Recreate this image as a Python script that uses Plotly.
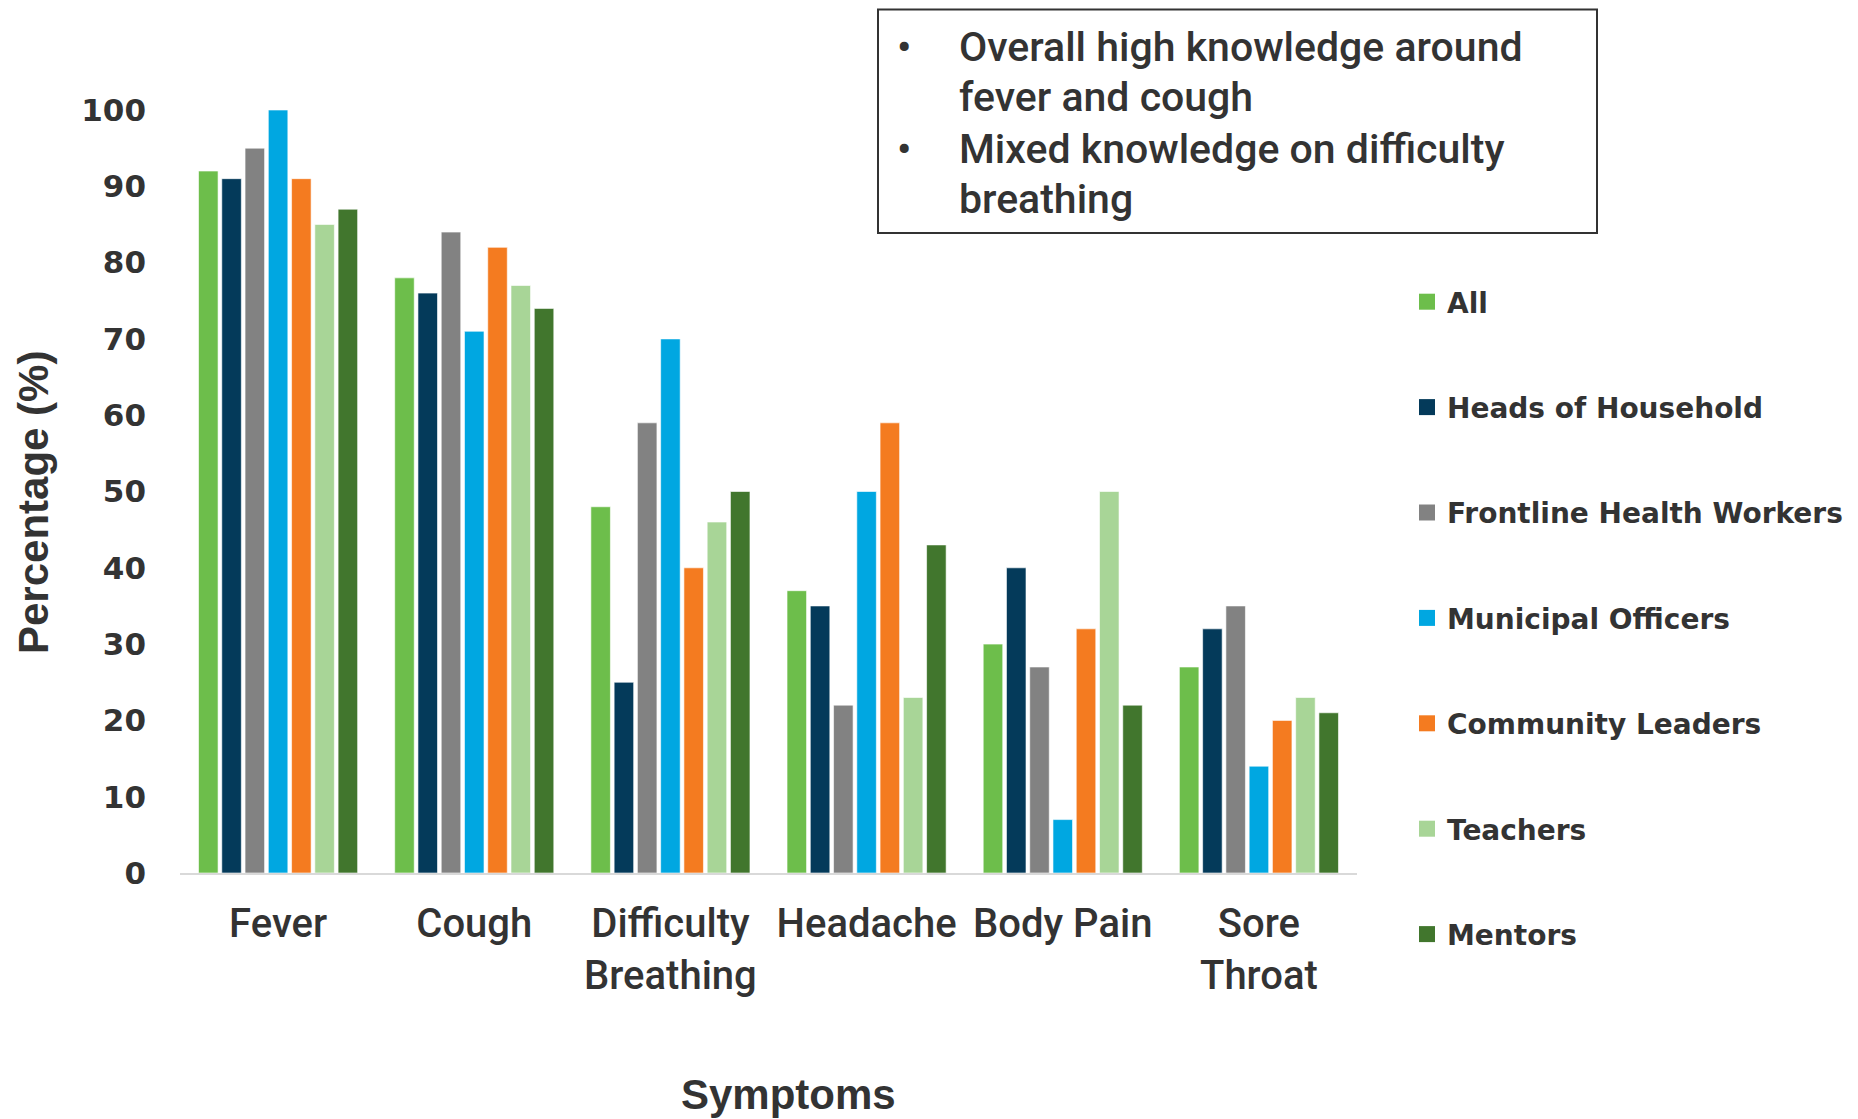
import plotly.graph_objects as go

categories = ["Fever", "Cough", "Difficulty<br>Breathing", "Headache", "Body Pain", "Sore<br>Throat"]

all_vals = [92, 78, 48, 37, 30, 27]
heads_of_household = [91, 76, 25, 35, 40, 32]
frontline_health_workers = [95, 84, 59, 22, 27, 35]
municipal_officers = [100, 71, 70, 50, 7, 14]
community_leaders = [91, 82, 40, 59, 32, 20]
teachers = [85, 77, 46, 23, 50, 23]
mentors = [87, 74, 50, 43, 22, 21]

series_names = ["All", "Heads of Household", "Frontline Health Workers", "Municipal Officers",
                "Community Leaders", "Teachers", "Mentors"]
series_values = [all_vals, heads_of_household, frontline_health_workers, municipal_officers,
                 community_leaders, teachers, mentors]
series_colors = ["#6DBE4B", "#043A5A", "#828282", "#00A7E1", "#F47B20", "#A8D597", "#41762D"]

y_ticks = [0, 10, 20, 30, 40, 50, 60, 70, 80, 90, 100]

note_lines = ["Overall high knowledge around", "fever and cough",
              "Mixed knowledge on difficulty", "breathing"]

OFF = 8  # page body margin
W, H = 1858 - OFF, 1119 - OFF
# plot area in page pixel coordinates
L, R, T, B = 180, 1357, 110, 873


def px(x):
    return (x - L) / (R - L)


def py(y):
    return (B - y) / (B - T)


fig = go.Figure()
for name, vals, col in zip(series_names, series_values, series_colors):
    fig.add_trace(go.Bar(
        x=categories, y=vals, name=name, legendgroup=name, showlegend=False,
        marker=dict(color=col, line=dict(color="rgba(255,255,255,0.6)", width=1)),
    ))
# legend entries with square swatches
for name, col in zip(series_names, series_colors):
    fig.add_trace(go.Scatter(
        x=[None], y=[None], mode="markers", name=name, legendgroup=name,
        marker=dict(symbol="square", size=20, color=col), showlegend=True,
    ))

tick_font = dict(family="DejaVu Sans", size=31, color="#333333", weight="bold")
cat_font = dict(family="Roboto", size=40, color="#333333", weight=500)
title_font = dict(family="Liberation Sans", size=42, color="#333333", weight="bold")
note_font = dict(family="Roboto", size=41, color="#333333", weight=500)

fig.update_layout(
    width=W, height=H,
    margin=dict(l=L - OFF, r=W - (R - OFF), t=T - OFF, b=H - (B - OFF), pad=0, autoexpand=False),
    plot_bgcolor="white", paper_bgcolor="white",
    barmode="group", bargap=0.17, bargroupgap=0.16,
    showlegend=True,
    legend=dict(
        x=px(1407), y=py(277), xanchor="left", yanchor="top",
        font=dict(family="DejaVu Sans", size=28, color="#333333", weight="bold"),
        tracegroupgap=66, itemwidth=30, bgcolor="rgba(0,0,0,0)",
    ),
    xaxis=dict(
        showgrid=False, showline=True, linecolor="#D9D9D9", linewidth=2,
        ticks="", tickfont=cat_font, ticklabelstandoff=14, tickangle=0, automargin=False,
    ),
    yaxis=dict(
        range=[0, 100], showgrid=False, showline=False, zeroline=False, automargin=False,
        tickvals=y_ticks, tickfont=tick_font, ticks="", ticklabelstandoff=33,
    ),
)

annotations = [
    dict(text="Symptoms", x=px(788), y=py(1094), xref="paper", yref="paper",
         showarrow=False, font=title_font, xanchor="center", yanchor="middle"),
    dict(text="Percentage (%)", x=px(33), y=py(503), xref="paper", yref="paper",
         showarrow=False, font=title_font, textangle=-90, xanchor="center", yanchor="middle"),
]
line_y = [47, 97, 149, 199]
for i, (t, yy) in enumerate(zip(note_lines, line_y)):
    annotations.append(dict(text=t, x=px(957), y=py(yy), xref="paper", yref="paper",
                            showarrow=False, font=note_font, xanchor="left", yanchor="middle"))
    if i in (0, 2):
        annotations.append(dict(text="•", x=px(904), y=py(yy), xref="paper", yref="paper",
                                showarrow=False, font=note_font, xanchor="center", yanchor="middle"))
fig.update_layout(annotations=annotations)

fig.add_shape(type="rect", xref="paper", yref="paper",
              x0=px(878), x1=px(1597), y0=py(233), y1=py(9.5),
              line=dict(color="#333333", width=2), fillcolor="rgba(0,0,0,0)")

fig.write_html("out.html")
